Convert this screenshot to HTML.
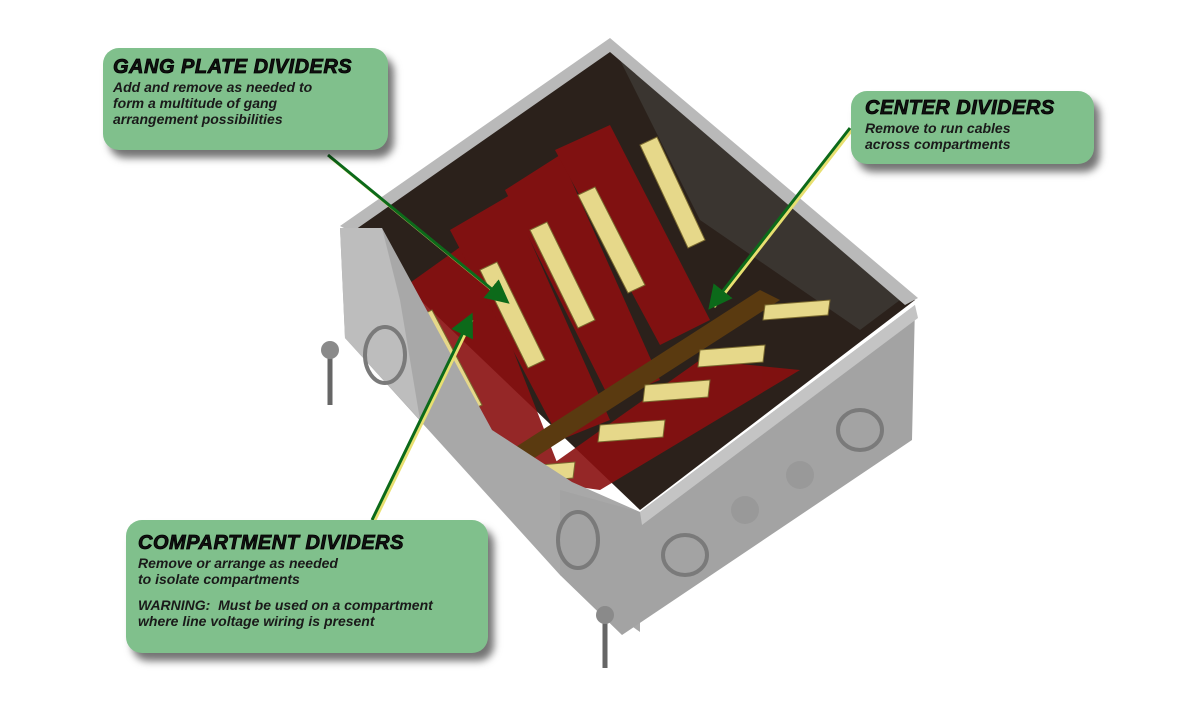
<!DOCTYPE html>
<html><head><style>
body{margin:0;background:#fff;width:1200px;height:705px;overflow:hidden;position:relative;font-family:"Liberation Sans",sans-serif}
.box{position:absolute;background:#80c08c;border-radius:16px;box-shadow:6px 8px 8px rgba(0,0,0,.55);font-style:italic;color:#111;box-sizing:border-box}
.box h1{margin:0;font-size:20px;font-weight:900;letter-spacing:.5px;-webkit-text-stroke:.8px #000}
.box p{margin:0;font-size:14px;line-height:16px;font-weight:bold;color:#1a1a1a}
</style></head><body>
<svg width="1200" height="705" style="position:absolute;left:0;top:0">
<defs><marker id="a" markerWidth="8" markerHeight="8" refX="6" refY="4" orient="auto"><path d="M0,0L8,4L0,8z" fill="#0c6a1a"/></marker></defs>
<polygon points="345,228 610,42 915,300 640,510" fill="#2b211b"/>
<polygon points="620,60 900,300 860,330 700,220" fill="#3a3530"/>
<polygon points="340,226 610,38 918,298 905,305 610,52 352,232" fill="#b9b9b9"/>
<g fill="#8a1010" opacity=".9">
<polygon points="400,290 470,240 560,470 500,470"/>
<polygon points="450,230 510,195 610,420 560,440"/>
<polygon points="505,190 560,155 660,380 610,400"/>
<polygon points="555,150 610,125 710,320 660,345"/>
<polygon points="530,480 700,360 800,370 600,490"/>
</g>
<g fill="#5a3a10"><polygon points="480,470 760,290 780,300 500,480"/></g>
<g fill="#e6d88a" stroke="#7a6a30" stroke-width="1">
<polygon points="415,318 432,310 482,405 465,413"/>
<polygon points="480,270 497,262 545,360 528,368"/>
<polygon points="530,230 547,222 595,320 578,328"/>
<polygon points="578,195 595,187 645,285 628,293"/>
<polygon points="640,145 657,137 705,240 688,248"/>
<polygon points="765,305 830,300 828,315 763,320"/>
<polygon points="700,350 765,345 763,362 698,367"/>
<polygon points="645,385 710,380 708,397 643,402"/>
<polygon points="600,425 665,420 663,437 598,442"/>
<polygon points="540,465 575,462 573,478 538,481"/>
</g>
<polygon points="340,228 382,228 492,430 572,482 640,512 640,632 560,575 345,338" fill="#a8a8a8"/>
<polygon points="340,228 382,228 400,300 420,420 345,338" fill="#bdbdbd"/>
<polygon points="640,512 915,305 912,440 622,635 560,575 560,490" fill="#a3a3a3"/>
<polygon points="640,512 915,305 918,318 642,525" fill="#c4c4c4"/>
<g fill="none" stroke="#7a7a7a" stroke-width="4">
<ellipse cx="385" cy="355" rx="20" ry="28"/>
<ellipse cx="578" cy="540" rx="20" ry="28"/>
<ellipse cx="685" cy="555" rx="22" ry="20"/>
<ellipse cx="860" cy="430" rx="22" ry="20"/>
</g>
<g fill="#999"><circle cx="745" cy="510" r="14"/><circle cx="800" cy="475" r="14"/></g>
<g stroke="#666" stroke-width="5"><line x1="330" y1="350" x2="330" y2="405"/><line x1="605" y1="615" x2="605" y2="668"/></g>
<g fill="#8a8a8a"><circle cx="330" cy="350" r="9"/><circle cx="605" cy="615" r="9"/></g>
<g stroke-width="3" fill="none">
<line x1="328" y1="155" x2="505" y2="300" stroke="#e8e070" transform="translate(2,2)"/>
<line x1="328" y1="155" x2="505" y2="300" stroke="#0c6a1a" marker-end="url(#a)"/>
<line x1="850" y1="128" x2="712" y2="305" stroke="#e8e070" transform="translate(2,2)"/>
<line x1="850" y1="128" x2="712" y2="305" stroke="#0c6a1a" marker-end="url(#a)"/>
<line x1="372" y1="520" x2="470" y2="318" stroke="#e8e070" transform="translate(2,2)"/>
<line x1="372" y1="520" x2="470" y2="318" stroke="#0c6a1a" marker-end="url(#a)"/>
</g>
</svg>
<div class="box" style="left:103px;top:48px;width:285px;height:102px;padding:8px 10px">
<h1>GANG PLATE DIVIDERS</h1><p>Add and remove as needed to<br>form a multitude of gang<br>arrangement possibilities</p></div>
<div class="box" style="left:851px;top:91px;width:243px;height:73px;padding:6px 10px 0 14px">
<h1>CENTER DIVIDERS</h1><p>Remove to run cables<br>across compartments</p></div>
<div class="box" style="left:126px;top:520px;width:362px;height:133px;padding:12px 12px 0 12px">
<h1>COMPARTMENT DIVIDERS</h1><p>Remove or arrange as needed<br>to isolate compartments</p><p style="margin-top:10px">WARNING:&nbsp; Must be used on a compartment<br>where line voltage wiring is present</p></div>
</body></html>
